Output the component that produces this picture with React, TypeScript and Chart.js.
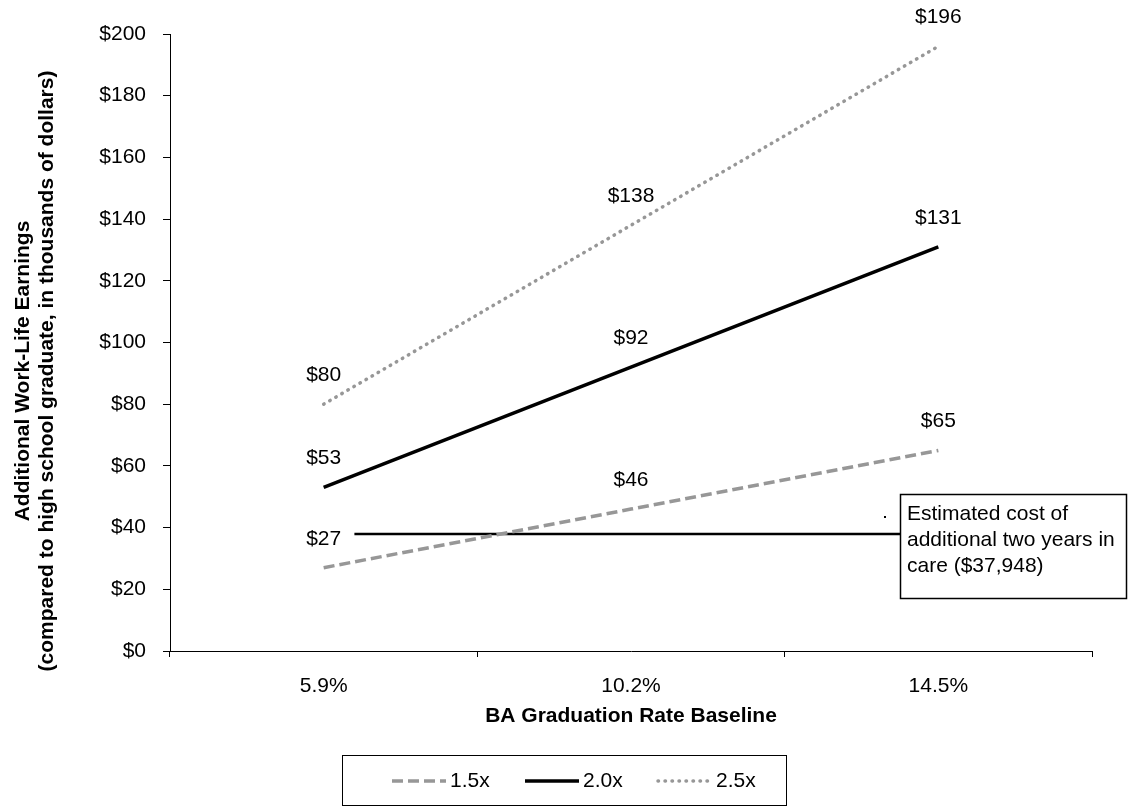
import { useEffect, useRef } from 'react';
import { Chart, ChartConfiguration, Plugin, registerables } from 'chart.js';

Chart.register(...registerables);

const categories = ['5.9%', '10.2%', '14.5%'];
const seriesNames = ['1.5x', '2.0x', '2.5x'];
const earnings15 = [27, 46, 65];
const earnings20 = [53, 92, 131];
const earnings25 = [80, 138, 196];
const yMin = 0;
const yMax = 200;
const yStep = 20;
const costOfCare = 37.948;
const costNote = ['Estimated cost of', 'additional two years in', 'care ($37,948)'];
const yTitle = ['Additional Work-Life Earnings', '(compared to high school graduate, in thousands of dollars)'];
const xTitle = 'BA Graduation Rate Baseline';

const FONT = "'Liberation Sans', Arial, Helvetica, sans-serif";
const GRAY = '#979797';

// value labels above each point
const pointLabels: Plugin = {
  id: 'pointLabels',
  afterDatasetsDraw(chart) {
    const { ctx } = chart;
    ctx.save();
    ctx.font = `21px ${FONT}`;
    ctx.fillStyle = '#000';
    ctx.textAlign = 'center';
    ctx.textBaseline = 'middle';
    chart.data.datasets.forEach((ds, i) => {
      const meta = chart.getDatasetMeta(i);
      meta.data.forEach((pt, j) => {
        ctx.fillText('$' + Math.round(ds.data[j] as number), pt.x, pt.y - 29);
      });
    });
    ctx.restore();
  },
};

// horizontal cost line (under the series)
const costLine: Plugin = {
  id: 'costLine',
  beforeDatasetsDraw(chart) {
    const { ctx, scales } = chart;
    const y = scales.y.getPixelForValue(costOfCare);
    const x0 = scales.x.getPixelForValue(0.1);
    ctx.save();
    ctx.strokeStyle = '#000';
    ctx.lineWidth = 2.5;
    ctx.beginPath();
    ctx.moveTo(x0, y);
    ctx.lineTo(900, y);
    ctx.stroke();
    ctx.restore();
  },
};

// note box, y title, boxed legend
const extras: Plugin = {
  id: 'extras',
  afterDraw(chart) {
    const { ctx } = chart;
    ctx.save();

    // note box
    ctx.fillStyle = '#fff';
    ctx.strokeStyle = '#000';
    ctx.lineWidth = 1.5;
    ctx.fillRect(900.5, 494.5, 226, 104);
    ctx.strokeRect(900.5, 494.5, 226, 104);
    ctx.fillStyle = '#000';
    ctx.font = `21px ${FONT}`;
    ctx.textAlign = 'left';
    ctx.textBaseline = 'middle';
    costNote.forEach((t, i) => ctx.fillText(t, 907, 514 + i * 26));
    ctx.fillRect(884, 516, 2, 2);

    // y axis title
    ctx.font = `bold 21px ${FONT}`;
    ctx.textAlign = 'center';
    [23, 47].forEach((x, i) => {
      ctx.save();
      ctx.translate(x, 371);
      ctx.rotate(-Math.PI / 2);
      ctx.fillText(yTitle[i], 0, 0);
      ctx.restore();
    });

    // legend
    ctx.strokeStyle = '#000';
    ctx.lineWidth = 1;
    ctx.strokeRect(342.5, 755.5, 444, 50);
    const cy = 781;
    ctx.font = `21px ${FONT}`;
    ctx.textAlign = 'left';
    chart.data.datasets.forEach((ds: any, i: number) => {
      const x = 392 + i * 133;
      ctx.save();
      ctx.strokeStyle = ds.borderColor;
      ctx.lineWidth = ds.borderWidth;
      ctx.lineCap = ds.borderCapStyle || 'butt';
      ctx.setLineDash(ds.borderDash || []);
      ctx.beginPath();
      ctx.moveTo(x, cy);
      ctx.lineTo(x + 54, cy);
      ctx.stroke();
      ctx.restore();
      ctx.fillStyle = '#000';
      ctx.fillText(ds.label, x + 58, cy);
    });
    ctx.restore();
  },
};

export default function App() {
  const chartRef = useRef<HTMLCanvasElement>(null);
  const chartInstance = useRef<Chart | null>(null);

  useEffect(() => {
    document.body.style.margin = '0';
    if (!chartRef.current) return;
    if (chartInstance.current) chartInstance.current.destroy();

    Chart.defaults.font.family = FONT;
    Chart.defaults.color = '#000';

    const config: ChartConfiguration = {
      type: 'line',
      data: {
        labels: categories,
        datasets: [
          {
            label: seriesNames[0],
            data: earnings15,
            borderColor: GRAY,
            backgroundColor: GRAY,
            borderWidth: 3.5,
            borderDash: [11, 5],
            pointRadius: 0,
            yAxisID: 'y',
          },
          {
            label: seriesNames[1],
            data: earnings20,
            borderColor: '#000',
            backgroundColor: '#000',
            borderWidth: 3.5,
            pointRadius: 0,
            yAxisID: 'y',
          },
          {
            label: seriesNames[2],
            data: earnings25,
            borderColor: GRAY,
            backgroundColor: GRAY,
            borderWidth: 3.5,
            borderDash: [0.5, 6.5],
            borderCapStyle: 'round',
            pointRadius: 0,
            yAxisID: 'y',
          },
        ],
      },
      options: {
        animation: false,
        responsive: true,
        maintainAspectRatio: false,
        layout: { padding: { top: 34, left: 0, right: 36, bottom: 78.5 } },
        plugins: {
          tooltip: { enabled: false },
          legend: { display: false },
        },
        scales: {
          x: {
            type: 'category',
            offset: true,
            grid: { offset: true, drawOnChartArea: false, tickLength: 6, color: '#000' },
            border: { color: '#000', width: 1 },
            ticks: { padding: 17, color: '#000', font: { size: 21 } },
            title: {
              display: true,
              text: xTitle,
              color: '#000',
              font: { size: 21, weight: 'bold' },
              padding: { top: 0, bottom: 1 },
            },
            afterFit: (s: any) => {
              s.height = 78.5;
            },
          },
          y: {
            min: yMin,
            max: yMax,
            grid: { drawOnChartArea: false, tickLength: 7, color: '#000' },
            border: { color: '#000', width: 1 },
            ticks: {
              stepSize: yStep,
              padding: 17,
              color: '#000',
              font: { size: 21 },
              callback: (v: any) => '$' + v,
            },
            afterFit: (s: any) => {
              s.width = 170;
            },
          },
        },
      },
      plugins: [costLine, pointLabels, extras],
    };

    chartInstance.current = new Chart(chartRef.current, config);

    return () => {
      if (chartInstance.current) {
        chartInstance.current.destroy();
        chartInstance.current = null;
      }
    };
  }, []);

  return (
    <div style={{ position: 'relative', width: 1128, height: 808, background: '#fff' }}>
      <canvas ref={chartRef}></canvas>
    </div>
  );
}
